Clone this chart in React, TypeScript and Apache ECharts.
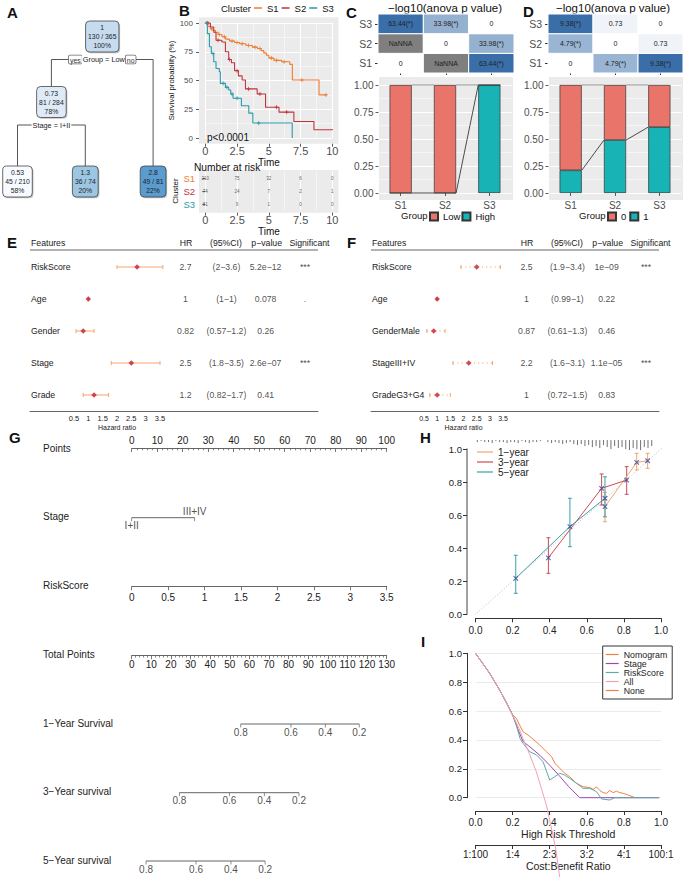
import React, { useEffect, useRef } from "react";
import * as echarts from "echarts";

const FONT = "'Liberation Sans', Arial, Helvetica, sans-serif";
const M = "\u2212";

/* ---------------- A: regression tree ---------------- */
const treeValue = ["1", "0.73", "2.8", "0.53", "1.3"];
const treeCount = ["130 / 365", "81 / 284", "49 / 81", "45 / 210", "36 / 74"];
const treePct = ["100%", "78%", "22%", "58%", "20%"];
const treeParent = [-1, 0, 0, 1, 1];
const treeSplit = ["Group = Low", "Stage = I+II", "", "", ""];
const treeBranch = ["yes", "no"];

/* ---------------- B: Kaplan-Meier ---------------- */
const clusters = ["S1", "S2", "S3"];
const s1Time = [0, 0.2, 0.4, 0.6, 0.8, 1.0, 1.3, 1.6, 1.9, 2.3, 2.7, 3.2, 3.7, 4.1, 4.4, 4.6, 4.8, 5.0, 5.4, 6.0, 6.65, 6.85, 8.95, 9.55];
const s1Surv = [100, 97, 95, 93.5, 92, 90, 88, 86, 84.4, 83, 82, 80.5, 79, 77.8, 76, 74, 72, 69.5, 67.5, 66.3, 64, 50.4, 37.5, 37.5];
const s2Time = [0, 0.4, 0.66, 0.84, 1.3, 1.58, 1.84, 2.05, 2.3, 2.6, 2.9, 3.16, 4.08, 4.74, 5.8, 6.97, 8.55, 10.05];
const s2Surv = [100, 96.5, 92, 85, 83.5, 75, 68.3, 65.4, 58.5, 54, 50.4, 42.7, 38.3, 26.8, 22.5, 14.4, 7.2, 7.2];
const s3Time = [0, 0.16, 0.32, 0.47, 0.66, 0.84, 1.1, 1.18, 1.58, 1.84, 2.0, 2.18, 2.84, 3.42, 3.74, 6.84];
const s3Surv = [100, 90.8, 79.3, 73.5, 66.3, 60.5, 57.6, 47.5, 44, 41.8, 38.3, 34.6, 28, 21.6, 13, 0];
const s1Cens = [0.15, 0.5, 1.1, 1.5, 2.1, 2.5, 2.9, 3.4, 3.9, 4.3, 5.2, 5.6, 6.2, 7.6, 9.5];
const s2Cens = [0.2, 1.0, 1.9, 2.5, 3.4, 4.3, 5.6, 6.4, 10.05];
const s3Cens = [0.1, 0.6, 1.4, 1.7, 2.1, 2.5, 4.2];
const riskTimes = [0, 2.5, 5, 7.5, 10];
const riskS1 = [210, 75, 32, 6, 0];
const riskS2 = [74, 24, 7, 2, 1];
const riskS3 = [81, 9, 1, 0, 0];

/* ---------------- C / D ---------------- */
const heatCats = ["S1", "S2", "S3"];
const cHeatS1 = [0, null, 63.44];
const cHeatS2 = [null, 0, 33.98];
const cHeatS3 = [63.44, 33.98, 0];
const cLow = [1, 1, 0];
const cHigh = [0, 0, 1];
const dHeatS1 = [0, 4.79, 9.38];
const dHeatS2 = [4.79, 0, 0.73];
const dHeatS3 = [9.38, 0.73, 0];
const dGroup0 = [0.79, 0.51, 0.39];
const dGroup1 = [0.21, 0.49, 0.61];

/* ---------------- E / F forest ---------------- */
const eFeatures = ["RiskScore", "Age", "Gender", "Stage", "Grade"];
const eHR = [2.7, 1, 0.82, 2.5, 1.2];
const eLow = [2, 1, 0.57, 1.8, 0.82];
const eHigh = [3.6, 1, 1.2, 3.5, 1.7];
const eP = ["5.2e" + M + "12", "0.078", "0.26", "2.6e" + M + "07", "0.41"];
const eSig = ["***", ".", "", "***", ""];
const fFeatures = ["RiskScore", "Age", "GenderMale", "StageIII+IV", "GradeG3+G4"];
const fHR = [2.5, 1, 0.87, 2.2, 1];
const fLow = [1.9, 0.99, 0.61, 1.6, 0.72];
const fHigh = [3.4, 1, 1.3, 3.1, 1.5];
const fP = ["1e" + M + "09", "0.22", "0.46", "1.1e" + M + "05", "0.83"];
const fSig = ["***", "", "", "***", ""];

/* ---------------- G nomogram ---------------- */
const stageLevels = ["I+II", "III+IV"];
const stagePoints = [0, 24.7];
const survProbs = [0.8, 0.6, 0.4, 0.2];
const surv1Pts = [55.6, 81.2, 98.7, 116.0];
const surv3Pts = [24.3, 49.8, 67.6, 85.3];
const surv5Pts = [7.3, 32.8, 50.6, 68.0];

/* ---------------- H calibration ---------------- */
const cal1X = [0.698, 0.869, 0.928];
const cal1Y = [0.651, 0.919, 0.929];
const cal1Lo = [0.56, 0.873, 0.883];
const cal1Hi = [0.738, 0.974, 0.974];
const cal3X = [0.393, 0.68, 0.815];
const cal3Y = [0.342, 0.762, 0.812];
const cal3Lo = [0.248, 0.661, 0.726];
const cal3Hi = [0.463, 0.849, 0.893];
const cal5X = [0.217, 0.509, 0.698];
const cal5Y = [0.218, 0.53, 0.702];
const cal5Lo = [0.127, 0.409, 0.59];
const cal5Hi = [0.357, 0.702, 0.832];
const calDiag = [[-0.04, -0.04], [1.05, 1.05]];
const rugX = [0.01, 0.03, 0.05, 0.07, 0.09, 0.11, 0.13, 0.15, 0.17, 0.19, 0.21, 0.23, 0.25, 0.27, 0.29, 0.31, 0.33, 0.35, 0.39, 0.41, 0.43, 0.45, 0.47, 0.49, 0.51, 0.53, 0.55, 0.57, 0.59, 0.61, 0.63, 0.65, 0.67, 0.69, 0.71, 0.73, 0.75, 0.77, 0.79, 0.81, 0.83, 0.85, 0.87, 0.89, 0.91, 0.93, 0.95];
const rugCount = [2, 1, 2, 2, 3, 1, 2, 2, 3, 2, 2, 3, 1, 2, 3, 2, 2, 1, 2, 3, 2, 3, 4, 3, 2, 4, 5, 4, 6, 5, 7, 6, 8, 5, 7, 9, 6, 8, 7, 9, 10, 8, 9, 10, 7, 8, 6];

/* ---------------- I decision curve ---------------- */
const nbNomogram = [[0, 1], [0.076, 0.862], [0.13, 0.746], [0.166, 0.66], [0.2, 0.573], [0.22, 0.55], [0.238, 0.503], [0.256, 0.457], [0.283, 0.434], [0.31, 0.406], [0.346, 0.365], [0.382, 0.319], [0.41, 0.284], [0.427, 0.24], [0.454, 0.203], [0.481, 0.17], [0.508, 0.145], [0.544, 0.1], [0.58, 0.076], [0.616, 0.07], [0.634, 0.058], [0.652, 0.075], [0.67, 0.05], [0.688, 0.035], [0.706, 0.03], [0.724, 0.05], [0.742, 0.035], [0.76, 0.045], [0.778, 0.035], [0.796, 0.03], [0.82, 0.02], [0.85, 0.005], [0.86, 0]];
const nbStage = [[0, 1], [0.076, 0.862], [0.13, 0.746], [0.166, 0.66], [0.2, 0.573], [0.23, 0.47], [0.256, 0.39], [0.3, 0.345], [0.35, 0.29], [0.4, 0.225], [0.45, 0.155], [0.5, 0.08], [0.562, 0], [0.99, 0]];
const nbRisk = [[0, 1], [0.076, 0.862], [0.13, 0.746], [0.166, 0.66], [0.2, 0.573], [0.22, 0.503], [0.24, 0.411], [0.256, 0.377], [0.292, 0.319], [0.329, 0.296], [0.364, 0.249], [0.4, 0.123], [0.427, 0.145], [0.454, 0.169], [0.48, 0.157], [0.508, 0.134], [0.544, 0.1], [0.58, 0.065], [0.616, 0.065], [0.652, 0.042], [0.68, -0.009], [0.724, -0.016], [0.75, 0], [0.99, 0]];
const nbAll = [[0, 1], [0.076, 0.862], [0.13, 0.746], [0.166, 0.66], [0.2, 0.573], [0.235, 0.48], [0.265, 0.38], [0.292, 0.3], [0.328, 0.18], [0.355, 0.065], [0.382, -0.05], [0.409, -0.21], [0.432, -0.35], [0.454, -0.55]];
const nbNone: number[][] = [];
const costBenefit = ["1:100", "1:4", "2:3", "3:2", "4:1", "100:1"];

const COL = {
  s1: "#EE7D32", s2: "#C1343D", s3: "#2A9BAA",
  low: "#E9746A", high: "#17B3B5", na: "#7F7F7F", panel: "#EBEBEB",
  ci: "#F4A46C", pt: "#C41E2A",
  cal1: "#F4A46A", cal3: "#CD4A55", cal5: "#3C9FA8", calX: "#2E4A9E",
  nom: "#F0843F", stage: "#9A4BAE", risk: "#5FA9A8", all: "#F4A0B4", none: "#F0843F",
};
const TREE_FILL = ["#C6DBEF", "#DEEBF7", "#5A9BD0", "#F7FBFF", "#9CC6E2"];
const PLUS = "path://M0,5L10,5M5,0L5,10";
const XMARK = "path://M0,0L10,10M10,0L0,10";

const heatColor = (t: number) => {
  const d = [58, 110, 168];
  const c = d.map((v) => Math.round(255 - t * (255 - v)));
  return `rgb(${c.join(",")})`;
};
const heatLabel = (v: number) => (v === 0 ? "0" : v > 1.30103 ? `${v.toFixed(2)}(*)` : v.toFixed(2));
const survAt = (times: number[], surv: number[], t: number) => {
  let s = surv[0];
  times.forEach((tt, i) => { if (tt <= t) s = surv[i]; });
  return s;
};

function buildOption() {
  const grid: any[] = [], xAxis: any[] = [], yAxis: any[] = [], series: any[] = [], legend: any[] = [], graphic: any[] = [];
  const G = (o: any) => { grid.push(o); return grid.length - 1; };
  const X = (o: any) => { xAxis.push({ position: "bottom", ...o }); return xAxis.length - 1; };
  const Y = (o: any) => { yAxis.push({ position: "left", ...o }); return yAxis.length - 1; };
  const text = (x: number, y: number, t: string, s: any = {}, z = 1) =>
    graphic.push({ type: "text", x, y, z, silent: true, style: { text: t, fontFamily: FONT, fontSize: 8, fill: "#222", align: "left", verticalAlign: "middle", ...s } });
  const line = (x1: number, y1: number, x2: number, y2: number, s: any = {}) =>
    graphic.push({ type: "line", silent: true, shape: { x1, y1, x2, y2 }, style: { stroke: "#333", lineWidth: 1, ...s } });
  const rect = (x: number, y: number, w: number, h: number, s: any = {}, r = 0, z = 0) =>
    graphic.push({ type: "rect", silent: true, z, shape: { x, y, width: w, height: h, r }, style: { fill: "#fff", ...s } });
  const letter = (x: number, y: number, t: string) => text(x, y, t, { fontSize: 15, fontWeight: "bold", fill: "#111" });

  letter(7, 12, "A"); letter(179, 10.5, "B"); letter(346, 12, "C"); letter(523, 11.5, "D");
  letter(7, 242.5, "E"); letter(347, 242.5, "F"); letter(9, 437, "G"); letter(420, 437, "H"); letter(421, 641.5, "I");

  /* ---------- A tree ---------- */
  const TREE_X0 = 17.5, TREE_DX = 67.8, TREE_Y = [36.5, 102, 181.5], BOX_H = 31;
  const kids = treeParent.map((_, i) => treeParent.map((p, j) => (p === i ? j : -1)).filter((j) => j >= 0));
  const leafOrder: number[] = [], depth: number[] = [];
  const visit = (i: number, d: number) => { depth[i] = d; if (!kids[i].length) leafOrder.push(i); else kids[i].forEach((c) => visit(c, d + 1)); };
  visit(0, 0);
  const xs: number[] = [];
  const place = (i: number): number => {
    if (!kids[i].length) xs[i] = leafOrder.indexOf(i);
    else { kids[i].forEach(place); xs[i] = kids[i].reduce((s, c) => s + xs[c], 0) / kids[i].length; }
    return xs[i];
  };
  place(0);
  const tx = (i: number) => TREE_X0 + xs[i] * TREE_DX;
  const ty = (i: number) => TREE_Y[kids[i].length ? depth[i] : TREE_Y.length - 1];
  const cw = (s: string, fs: number) => s.split("").reduce((w, ch) => w + (/[0-9]/.test(ch) ? 0.556 : ch === "%" ? 0.889 : 0.278), 0) * fs;
  treeValue.forEach((_, i) => {
    if (!kids[i].length) return;
    const sy = ty(i) + BOX_H / 2 + 7.5;
    const kx = kids[i].map(tx);
    line(Math.min(...kx), sy, Math.max(...kx), sy, { stroke: "#555" });
    kids[i].forEach((c) => line(tx(c), sy, tx(c), ty(c) - BOX_H / 2, { stroke: "#555" }));
    const lbl = i === 0 ? `{yn|${treeBranch[0]}}{lb|${treeSplit[i]}}{yn|${treeBranch[1]}}` : `{lb|${treeSplit[i]}}`;
    text(tx(i), sy, lbl, {
      align: "center",
      rich: {
        yn: { fontSize: 7, fontFamily: FONT, fill: "#333", color: "#333", backgroundColor: "#fff", borderColor: "#666", borderWidth: 0.8, padding: [1, 1, 0, 1], borderRadius: 1 },
        lb: { fontSize: 7.3, fontFamily: FONT, fill: "#222", color: "#222", backgroundColor: "#fff", padding: [1, 1, 1, 1] },
      },
    }, 2);
  });
  treeValue.forEach((v, i) => {
    const cx = tx(i), cy = ty(i);
    const w = Math.max(cw(treeCount[i], 6.8), cw(treePct[i], 6.8)) + 5;
    rect(cx - w / 2 + 1.2, cy - BOX_H / 2 + 1.2, w, BOX_H, { fill: "#c4c4c4" }, 4, 2);
    rect(cx - w / 2, cy - BOX_H / 2, w, BOX_H, { fill: TREE_FILL[i], stroke: "#444", lineWidth: 0.8 }, 4, 2);
    text(cx, cy, `${v}\n${treeCount[i]}\n${treePct[i]}`, { align: "center", fontSize: 6.8, lineHeight: 9, fill: "#222" }, 3);
  });

  /* ---------- B KM ---------- */
  rect(199, 17.25, 139.4, 126.5, { fill: COL.panel }, 0, -10);
  const gKM = G({ left: 205.35, top: 23, width: 127, height: 115 });
  const whiteMajor = { show: true, lineStyle: { color: "#fff", width: 1 } };
  const whiteMinor = { show: true, lineStyle: { color: "#fff", width: 0.5 } };
  const tick3 = { show: true, length: 3, lineStyle: { color: "#333", width: 0.8 } };
  const xKM = X({
    gridIndex: gKM, type: "value", min: 0, max: 10, interval: 2.5, offset: 5.75,
    axisLine: { show: false, onZero: false }, axisTick: tick3, axisLabel: { fontSize: 11, color: "#4D4D4D", margin: 1.5 },
    splitLine: whiteMajor, minorTick: { show: false, splitNumber: 2 }, minorSplitLine: whiteMinor,
    name: "Time", nameLocation: "middle", nameGap: 4.5, nameTextStyle: { fontSize: 10, color: "#111", verticalAlign: "top" },
  });
  const yKM = Y({
    gridIndex: gKM, type: "value", min: 0, max: 100, interval: 25, offset: 6.35,
    axisLine: { show: false, onZero: false }, axisTick: tick3, axisLabel: { fontSize: 8, color: "#4D4D4D", margin: 6 },
    splitLine: whiteMajor, minorTick: { show: false, splitNumber: 2 }, minorSplitLine: whiteMinor,
    name: "Survival probability (%)", nameLocation: "middle", nameGap: 7, nameTextStyle: { fontSize: 7.8, color: "#111" },
  });
  const kmT = [s1Time, s2Time, s3Time], kmS = [s1Surv, s2Surv, s3Surv], kmC = [s1Cens, s2Cens, s3Cens], kmCol = [COL.s1, COL.s2, COL.s3];
  clusters.forEach((c, k) => {
    series.push({
      type: "line", name: c, xAxisIndex: xKM, yAxisIndex: yKM, step: "end", symbol: "none", z: 3,
      data: kmT[k].map((t, i) => [t, kmS[k][i]]), lineStyle: { color: kmCol[k], width: 1.1 }, itemStyle: { color: kmCol[k] },
    });
    series.push({
      type: "scatter", name: c + " censored", xAxisIndex: xKM, yAxisIndex: yKM, symbol: PLUS, symbolSize: 4, silent: true, z: 4,
      data: kmC[k].map((t) => [t, survAt(kmT[k], kmS[k], t)]), itemStyle: { color: kmCol[k], borderColor: kmCol[k], borderWidth: 1 },
    });
  });
  text(207, 137.5, "p<0.0001", { fontSize: 10, fill: "#111" }, 5);
  text(251, 8, "Cluster", { fontSize: 9.5, align: "right", fill: "#111" });
  legend.push({ data: clusters, left: 254, top: 3, padding: 0, icon: "rect", itemWidth: 8, itemHeight: 1.5, itemGap: 3, selectedMode: false, textStyle: { fontSize: 9.5, color: "#111", lineHeight: 10 } });

  /* risk table */
  text(194, 167.5, "Number at risk", { fontSize: 10.2, fill: "#111" });
  rect(199, 170, 139.4, 42.7, { fill: COL.panel }, 0, -10);
  const gRT = G({ left: 205.35, top: 171.5, width: 127, height: 39 });
  const xRT = X({
    gridIndex: gRT, type: "value", min: 0, max: 10, interval: 2.5,
    axisLine: { show: false, onZero: false }, axisTick: { show: false }, axisLabel: { show: false },
    splitLine: whiteMajor, minorTick: { show: false, splitNumber: 2 }, minorSplitLine: whiteMinor,
  });
  const yRT = Y({
    gridIndex: gRT, type: "category", data: clusters, inverse: true, offset: 6.35,
    axisLine: { show: false }, axisTick: { ...tick3, alignWithLabel: true },
    axisLabel: {
      interval: 0, margin: 4, formatter: (v: string) => `{${v}|${v}}`,
      rich: { S1: { color: COL.s1, fontSize: 9.5 }, S2: { color: COL.s2, fontSize: 9.5 }, S3: { color: COL.s3, fontSize: 9.5 } },
    },
    splitLine: { show: false },
    name: "Cluster", nameLocation: "middle", nameGap: 17, nameTextStyle: { fontSize: 8, color: "#111" },
  });
  [riskS1, riskS2, riskS3].forEach((counts, k) =>
    series.push({
      type: "scatter", xAxisIndex: xRT, yAxisIndex: yRT, silent: true, symbolSize: 1, itemStyle: { color: "rgba(0,0,0,0)" },
      data: riskTimes.map((t, j) => ({ value: [t, k], name: String(counts[j]) })),
      label: { show: true, position: "inside", formatter: (p: any) => p.name, fontSize: 4.5, color: "#333" },
    })
  );
  const gRTA = G({ left: 205.35, top: 211.7, width: 127, height: 1 });
  X({
    gridIndex: gRTA, type: "value", min: 0, max: 10, interval: 2.5,
    axisLine: { show: false, onZero: false }, axisTick: tick3, axisLabel: { show: true, fontSize: 11, color: "#4D4D4D", margin: 1.5 }, splitLine: { show: false },
    name: "Time", nameLocation: "middle", nameGap: 6, nameTextStyle: { fontSize: 10, color: "#111", verticalAlign: "top" },
  });
  Y({ gridIndex: gRTA, type: "value", show: false });

  /* ---------- C / D heatmaps and bars ---------- */
  const heatPanel = (left: number, width: number, rows: (number | null)[][], titleX: number) => {
    text(titleX, 7.5, M + "log10(anova p value)", { align: "center", fontSize: 11.5, fill: "#111" });
    const g = G({ left, top: 14, width, height: 59 });
    const xi = X({ gridIndex: g, type: "category", data: heatCats, axisLine: { show: false }, axisTick: { show: true, length: 2, alignWithLabel: true, lineStyle: { color: "#333" } }, axisLabel: { show: false }, splitLine: { show: false } });
    const yi = Y({ gridIndex: g, type: "category", data: heatCats, axisLine: { show: false }, axisTick: { show: true, length: 3, alignWithLabel: true, lineStyle: { color: "#333" } }, axisLabel: { interval: 0, fontSize: 10.5, color: "#4D4D4D", margin: 6 }, splitLine: { show: false } });
    const vals = rows.flat().filter((v) => v != null) as number[];
    const max = Math.max(...vals);
    const data: number[][] = [];
    rows.forEach((row, r) => row.forEach((v, c) => data.push([c, r, v == null ? 0 : v, v == null ? 1 : 0])));
    series.push({
      type: "custom", xAxisIndex: xi, yAxisIndex: yi, silent: true, data,
      renderItem: (p: any, api: any) => {
        const c = api.coord([api.value(0), api.value(1)]);
        const sz = api.size([1, 1]);
        const v = api.value(2), na = api.value(3) === 1;
        return {
          type: "group",
          children: [
            { type: "rect", shape: { x: c[0] - sz[0] / 2, y: c[1] - sz[1] / 2, width: sz[0], height: sz[1] }, style: { fill: na ? COL.na : heatColor(v / max), stroke: "#fff", lineWidth: 1 } },
            { type: "text", x: c[0], y: c[1], style: { text: na ? "NaNNA" : heatLabel(v), align: "center", verticalAlign: "middle", fontSize: 7, fontFamily: FONT, fill: "#222" } },
          ],
        };
      },
    });
  };
  const barPanel = (left: number, key: string, bottomName: string, bottom: number[], topName: string, top: number[], legLeft: number, gap: number) => {
    rect(left + 0.5, 77, 134, 123, { fill: COL.panel }, 0, -10);
    const g = G({ left, top: 85, width: 133, height: 108 });
    const xi = X({ gridIndex: g, type: "category", data: heatCats, offset: 7, axisLine: { show: false }, axisTick: { ...tick3, alignWithLabel: true }, axisLabel: { interval: 0, fontSize: 10, color: "#4D4D4D", margin: 0.5 }, splitLine: { show: false } });
    const yi = Y({
      gridIndex: g, type: "value", min: 0, max: 1, interval: 0.25, offset: 0, axisLine: { show: false }, axisTick: tick3,
      axisLabel: { fontSize: 10, color: "#4D4D4D", margin: 5, formatter: (v: number) => v.toFixed(2) },
      splitLine: whiteMajor, minorTick: { show: false, splitNumber: 2 }, minorSplitLine: whiteMinor,
    });
    series.push({ type: "bar", name: bottomName, xAxisIndex: xi, yAxisIndex: yi, stack: key, barWidth: "50%", data: bottom, itemStyle: { color: COL.high, borderColor: "#333", borderWidth: 0.7 } });
    series.push({ type: "bar", name: topName, xAxisIndex: xi, yAxisIndex: yi, stack: key, barWidth: "50%", data: top, itemStyle: { color: COL.low, borderColor: "#333", borderWidth: 0.7 } });
    const total = bottom.map((v, i) => v + top[i]);
    const conn = (vals: number[], color: string) => series.push({
      type: "custom", xAxisIndex: xi, yAxisIndex: yi, silent: true, z: 4,
      data: vals.slice(0, -1).map((v, i) => [i, v, vals[i + 1]]),
      renderItem: (p: any, api: any) => {
        const i = api.value(0);
        const a = api.coord([i, api.value(1)]);
        const b = api.coord([i + 1, api.value(2)]);
        const half = api.size([1, 0])[0] * 0.25;
        return { type: "line", shape: { x1: a[0] + half, y1: a[1], x2: b[0] - half, y2: b[1] }, style: { stroke: color, lineWidth: 0.8 } };
      },
    });
    conn(bottom, "#222");
    conn(total, "#777");
    text(legLeft - 1.5, 215.5, "Group", { fontSize: 9.5, align: "right", fill: "#111" });
    legend.push({ data: [topName, bottomName], left: legLeft, top: 211.5, padding: 0, icon: "rect", itemWidth: 8, itemHeight: 8, itemGap: gap, selectedMode: false, textStyle: { fontSize: 9.5, color: "#111" } });
  };
  heatPanel(378, 136, [cHeatS1, cHeatS2, cHeatS3], 445);
  barPanel(378.5, "c", "High", cHigh, "Low", cLow, 429, 1);
  heatPanel(548, 135, [dHeatS1, dHeatS2, dHeatS3], 613);
  barPanel(548.5, "d", "1", dGroup1, "0", dGroup0, 607, 3);

  /* ---------- E / F forest ---------- */
  const forest = (ox: number, feats: string[], hr: number[], lo: number[], hi: number[], pv: string[], sig: string[], fx: number, fw: number, dashed: boolean, labFs: number) => {
    const hy = 242.5, fs = 8.7;
    text(ox + 1, hy, "Features", { fontSize: fs });
    text(ox + 156, hy, "HR", { fontSize: fs, align: "center" });
    text(ox + 196, hy, "(95%CI)", { fontSize: fs, align: "center" });
    text(ox + 236.7, hy, "p" + M + "value", { fontSize: fs, align: "center" });
    text(ox + 279.5, hy, "Significant", { fontSize: fs, align: "center" });
    line(ox, 250, ox + 288, 250, { stroke: "#666", lineWidth: 1.2 });
    const gT = G({ left: ox, top: 251, width: 288, height: 160 });
    const xT = X({ gridIndex: gT, type: "value", min: 0, max: 1, axisLine: { show: true, onZero: false, lineStyle: { color: "#666", width: 1 } }, axisTick: { show: false }, axisLabel: { show: false }, splitLine: { show: false } });
    const yT = Y({ gridIndex: gT, type: "category", data: feats, inverse: true, axisLine: { show: false }, axisTick: { show: false }, axisLabel: { interval: 0, align: "left", margin: -1, fontSize: fs, color: "#222" }, splitLine: { show: false } });
    const ci = lo.map((l, i) => `(${l}${M}${hi[i]})`);
    const cols: [number, string[]][] = [[0.54, hr.map(String)], [0.682, ci], [0.818, pv], [0.955, sig]];
    cols.forEach(([cx, arr]) => series.push({
      type: "scatter", xAxisIndex: xT, yAxisIndex: yT, silent: true, symbolSize: 1, itemStyle: { color: "rgba(0,0,0,0)" },
      data: arr.map((t, i) => ({ value: [cx, i], name: t })),
      label: { show: true, position: "inside", formatter: (p: any) => p.name, fontSize: fs, color: "#222" },
    }));
    const gF = G({ left: fx, top: 251, width: fw, height: 160 });
    const xF = X({
      gridIndex: gF, type: "value", min: 0.5, max: 3.5, interval: 0.5, axisLine: { show: false }, axisTick: { show: false },
      axisLabel: { fontSize: labFs, color: "#222", margin: 3.5, showMinLabel: true, showMaxLabel: true }, splitLine: { show: false },
      name: "Hazard ratio", nameLocation: "middle", nameGap: 13, nameTextStyle: { fontSize: 7, color: "#222", verticalAlign: "top" },
    });
    const yF = Y({ gridIndex: gF, type: "category", data: feats, inverse: true, show: false });
    series.push({
      type: "custom", xAxisIndex: xF, yAxisIndex: yF, silent: true, z: 3,
      data: feats.map((_, i) => [lo[i], i, hi[i]]),
      renderItem: (p: any, api: any) => {
        const r = api.value(1);
        const a = api.coord([api.value(0), r]);
        const b = api.coord([api.value(2), r]);
        const st = { stroke: COL.ci, lineWidth: 1 };
        return {
          type: "group",
          children: [
            { type: "line", shape: { x1: a[0], y1: a[1], x2: b[0], y2: b[1] }, style: dashed ? { ...st, lineDash: [1.2, 3] } : st },
            { type: "line", shape: { x1: a[0], y1: a[1] - 2, x2: a[0], y2: a[1] + 2 }, style: st },
            { type: "line", shape: { x1: b[0], y1: b[1] - 2, x2: b[0], y2: b[1] + 2 }, style: st },
          ],
        };
      },
    });
    series.push({ type: "scatter", xAxisIndex: xF, yAxisIndex: yF, silent: true, z: 4, symbol: "diamond", symbolSize: 5.5, itemStyle: { color: COL.pt }, data: hr.map((v, i) => [v, i]) });
  };
  forest(30, eFeatures, eHR, eLow, eHigh, eP, eSig, 74, 86, false, 7.5);
  forest(371, fFeatures, fHR, fLow, fHigh, fP, fSig, 424, 79, true, 7);

  /* ---------- G nomogram ---------- */
  const NL = 131.7, NW = 255, nomFs = 10;
  const nomLine = { show: true, onZero: false, lineStyle: { color: "#555", width: 0.9 } };
  const nomTick = { show: true, length: 3.5, lineStyle: { color: "#555", width: 0.8 } };
  const nomLab = { fontSize: nomFs, color: "#222", showMinLabel: true, showMaxLabel: true };
  const rowLabel = (y: number, t: string) => text(43, y, t, { fontSize: nomFs });
  rowLabel(448, "Points");
  rowLabel(516.7, "Stage");
  rowLabel(585.7, "RiskScore");
  rowLabel(654.3, "Total Points");
  rowLabel(723.3, "1" + M + "Year Survival");
  rowLabel(791.7, "3" + M + "Year survival");
  rowLabel(860, "5" + M + "Year survival");
  const gP = G({ left: NL, top: 448.5, width: NW, height: 1 });
  X({ gridIndex: gP, type: "value", position: "top", min: 0, max: 100, interval: 10, axisLine: nomLine, axisTick: { ...nomTick, inside: true }, minorTick: { show: true, splitNumber: 5, length: 1.8, lineStyle: { color: "#555", width: 0.7 } }, axisLabel: { ...nomLab, margin: 3 }, splitLine: { show: false } });
  Y({ gridIndex: gP, type: "value", show: false });
  const hiddenRow = (yc: number, max: number) => {
    const g = G({ left: NL, top: yc - 10, width: NW, height: 20 });
    const xi = X({ gridIndex: g, type: "value", min: 0, max, show: false });
    const yi = Y({ gridIndex: g, type: "value", min: -1, max: 1, show: false });
    return [xi, yi];
  };
  const [xS, yS] = hiddenRow(517.7, 100);
  series.push({ type: "line", xAxisIndex: xS, yAxisIndex: yS, silent: true, symbol: "none", data: stagePoints.map((p) => [p, 0]), lineStyle: { color: "#555", width: 0.9 } });
  series.push({
    type: "scatter", xAxisIndex: xS, yAxisIndex: yS, silent: true, symbol: "rect", symbolSize: [0.8, 3.5], symbolOffset: [0, 1.75], itemStyle: { color: "#555" },
    data: stagePoints.map((p, i) => ({ value: [p, 0], name: stageLevels[i], label: { position: i === 0 ? "bottom" : "top", distance: i === 0 ? -0.5 : 1.5 } })),
    label: { show: true, formatter: (p: any) => p.name, fontSize: nomFs, color: "#222" },
  });
  const gR = G({ left: NL, top: 585.7, width: NW, height: 1 });
  X({ gridIndex: gR, type: "value", min: 0, max: 3.5, interval: 0.5, axisLine: nomLine, axisTick: nomTick, axisLabel: { ...nomLab, margin: 6 }, splitLine: { show: false } });
  Y({ gridIndex: gR, type: "value", show: false });
  const gTP = G({ left: NL, top: 654.7, width: NW, height: 1 });
  X({ gridIndex: gTP, type: "value", min: 0, max: 130, interval: 10, axisLine: nomLine, axisTick: nomTick, minorTick: { show: true, splitNumber: 5, length: 1.8, lineStyle: { color: "#555", width: 0.7 } }, axisLabel: { ...nomLab, margin: 4 }, splitLine: { show: false } });
  Y({ gridIndex: gTP, type: "value", show: false });
  const survRow = (yc: number, pts: number[]) => {
    const [xi, yi] = hiddenRow(yc, 130);
    series.push({ type: "line", xAxisIndex: xi, yAxisIndex: yi, silent: true, symbol: "none", data: [[pts[0], 0], [pts[pts.length - 1], 0]], lineStyle: { color: "#555", width: 0.9 } });
    series.push({
      type: "scatter", xAxisIndex: xi, yAxisIndex: yi, silent: true, symbol: "rect", symbolSize: [0.8, 3.5], symbolOffset: [0, 1.75], itemStyle: { color: "#555" },
      data: pts.map((p, i) => ({ value: [p, 0], name: survProbs[i].toFixed(1) })),
      label: { show: true, position: "bottom", distance: -0.5, formatter: (p: any) => p.name, fontSize: nomFs, color: "#222" },
    });
  };
  survRow(724, surv1Pts);
  survRow(792.7, surv3Pts);
  survRow(861, surv5Pts);

  /* ---------- H calibration ---------- */
  const HL = 475.5, HW = 185.5;
  const gH = G({ left: HL, top: 449, width: HW, height: 165.3 });
  const f1 = (v: number) => v.toFixed(1);
  const xH = X({ gridIndex: gH, type: "value", min: 0, max: 1, interval: 0.2, offset: 4, axisLine: { show: true, onZero: false, lineStyle: { color: "#333", width: 1 } }, axisTick: { show: true, length: 4, lineStyle: { color: "#333" } }, axisLabel: { fontSize: 10, color: "#222", margin: 7, formatter: f1 }, splitLine: { show: false } });
  const yH = Y({ gridIndex: gH, type: "value", min: 0, max: 1, interval: 0.2, offset: 8.5, axisLine: { show: true, onZero: false, lineStyle: { color: "#8a8a8a", width: 1.6 } }, axisTick: { show: true, length: 4, lineStyle: { color: "#333" } }, axisLabel: { fontSize: 9.5, color: "#222", margin: 5, formatter: f1 }, splitLine: { show: false } });
  series.push({ type: "line", xAxisIndex: xH, yAxisIndex: yH, silent: true, symbol: "none", clip: false, data: calDiag, lineStyle: { color: "#aaa", width: 0.8, type: [1, 2] } });
  series.push({
    type: "custom", xAxisIndex: xH, yAxisIndex: yH, silent: true, clip: false,
    data: rugX.map((x, i) => [x, rugCount[i]]),
    renderItem: (p: any, api: any) => {
      const a = api.coord([api.value(0), 1.054]);
      return { type: "line", shape: { x1: a[0], y1: a[1], x2: a[0], y2: a[1] + api.value(1) }, style: { stroke: "#333", lineWidth: 0.7 } };
    },
  });
  const calSets = [
    ["1" + M + "year", cal1X, cal1Y, cal1Lo, cal1Hi, COL.cal1],
    ["3" + M + "year", cal3X, cal3Y, cal3Lo, cal3Hi, COL.cal3],
    ["5" + M + "year", cal5X, cal5Y, cal5Lo, cal5Hi, COL.cal5],
  ] as [string, number[], number[], number[], number[], string][];
  calSets.forEach(([name, cx, cy, lo, hi, col]) => {
    series.push({
      type: "custom", xAxisIndex: xH, yAxisIndex: yH, silent: true, z: 3,
      data: cx.map((x, i) => [x, lo[i], hi[i]]),
      renderItem: (p: any, api: any) => {
        const a = api.coord([api.value(0), api.value(1)]);
        const b = api.coord([api.value(0), api.value(2)]);
        const st = { stroke: col, lineWidth: 1 };
        return {
          type: "group",
          children: [
            { type: "line", shape: { x1: a[0], y1: a[1], x2: b[0], y2: b[1] }, style: st },
            { type: "line", shape: { x1: a[0] - 2, y1: a[1], x2: a[0] + 2, y2: a[1] }, style: st },
            { type: "line", shape: { x1: b[0] - 2, y1: b[1], x2: b[0] + 2, y2: b[1] }, style: st },
          ],
        };
      },
    });
    series.push({ type: "line", name, xAxisIndex: xH, yAxisIndex: yH, symbol: "none", z: 4, data: cx.map((x, i) => [x, cy[i]]), lineStyle: { color: col, width: 1 }, itemStyle: { color: col } });
  });
  calSets.forEach(([, cx, cy]) => series.push({
    type: "scatter", xAxisIndex: xH, yAxisIndex: yH, silent: true, z: 5, symbol: XMARK, symbolSize: 4.5,
    data: cx.map((x, i) => [x, cy[i]]), itemStyle: { color: COL.calX, borderColor: COL.calX, borderWidth: 1.1 },
  }));
  legend.push({ data: calSets.map((c) => c[0]), orient: "vertical", left: 477, top: 447, padding: 0, icon: "rect", itemWidth: 16, itemHeight: 1.2, itemGap: 0, selectedMode: false, textStyle: { fontSize: 10, lineHeight: 10, color: "#222" } });

  /* ---------- I decision curve ---------- */
  const gI = G({ left: HL, top: 653.3, width: HW, height: 144.4 });
  const xI = X({
    gridIndex: gI, type: "value", min: 0, max: 1, interval: 0.2, offset: 13.3, axisLine: { show: true, onZero: false, lineStyle: { color: "#333" } }, axisTick: { show: true, length: 4, lineStyle: { color: "#333" } },
    axisLabel: { fontSize: 10, color: "#222", margin: 6.3, formatter: f1 }, splitLine: { show: false },
    name: "High Risk Threshold", nameLocation: "middle", nameGap: 16.3, nameTextStyle: { fontSize: 10.5, color: "#222", verticalAlign: "top" },
  });
  X({
    gridIndex: gI, type: "value", min: 0, max: 1, interval: 0.2, offset: 47.3, axisLine: { show: true, onZero: false, lineStyle: { color: "#333" } }, axisTick: { show: true, length: 4, lineStyle: { color: "#333" } },
    axisLabel: { fontSize: 10, color: "#222", margin: 4.5, formatter: (v: number) => costBenefit[Math.round(v / 0.2)] }, splitLine: { show: false },
    name: "Cost:Benefit Ratio", nameLocation: "middle", nameGap: 14, nameTextStyle: { fontSize: 10.5, color: "#222", verticalAlign: "top" },
  });
  const yI = Y({ gridIndex: gI, type: "value", min: 0, max: 1, interval: 0.2, offset: 8.5, axisLine: { show: true, onZero: false, lineStyle: { color: "#333" } }, axisTick: { show: true, length: 4, lineStyle: { color: "#333" } }, axisLabel: { fontSize: 9.5, color: "#222", margin: 5, formatter: f1 }, splitLine: { show: true, lineStyle: { color: "#E6E6E6", width: 0.8 } } });
  const dca = [["Nomogram", nbNomogram, COL.nom], ["Stage", nbStage, COL.stage], ["RiskScore", nbRisk, COL.risk], ["All", nbAll, COL.all], ["None", nbNone, COL.none]] as [string, number[][], string][];
  dca.forEach(([name, data, col]) => series.push({ type: "line", name, xAxisIndex: xI, yAxisIndex: yI, symbol: "none", clip: false, z: 3, data, lineStyle: { color: col, width: 1 }, itemStyle: { color: col } }));
  legend.push({ data: dca.map((d) => d[0]), orient: "vertical", left: 602.7, top: 646, padding: [4, 5, 4, 3], icon: "rect", itemWidth: 13, itemHeight: 1.2, itemGap: 0, borderColor: "#333", borderWidth: 1, backgroundColor: "#fff", selectedMode: false, textStyle: { fontSize: 8.8, lineHeight: 8.4, color: "#222" } });

  return { animation: false, backgroundColor: "#fff", textStyle: { fontFamily: FONT }, grid, xAxis, yAxis, series, legend, graphic };
}

export default function App() {
  const ref = useRef<HTMLDivElement>(null);
  useEffect(() => {
    if (!ref.current) return;
    const chart = echarts.init(ref.current, null, { renderer: "svg", width: 685, height: 878 });
    chart.setOption(buildOption() as any);
    return () => chart.dispose();
  }, []);
  return <div ref={ref} style={{ position: "absolute", left: 0, top: 0, width: 685, height: 878, background: "#fff" }} />;
}
